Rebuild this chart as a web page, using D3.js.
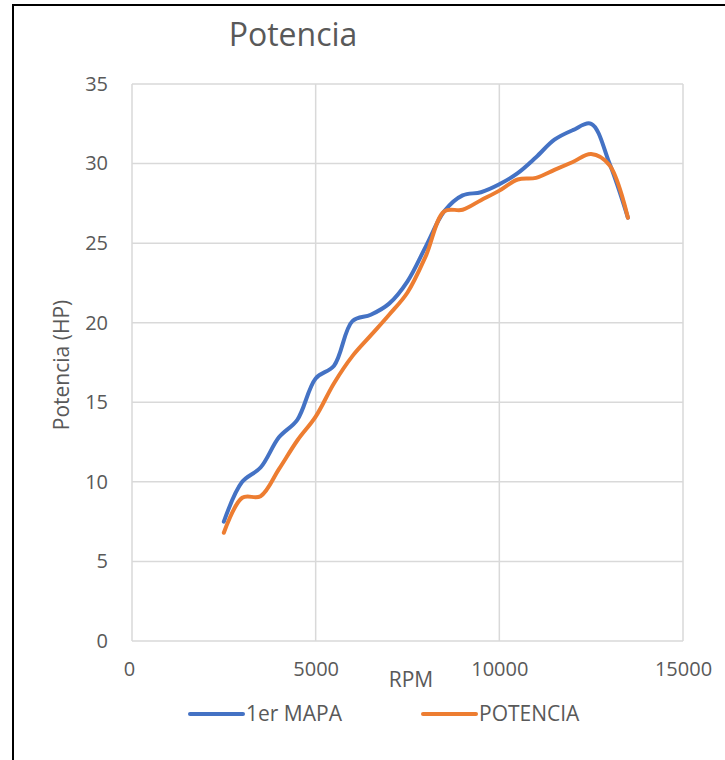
<!DOCTYPE html>
<html>
<head>
<meta charset="utf-8">
<script src="https://cdn.jsdelivr.net/npm/d3@7"></script>
<style>
  html, body { margin: 0; padding: 0; background: #fff; }
  svg { display: block; }
  text { font-family: "Open Sans", "Liberation Sans", sans-serif; fill: #595959; }
</style>
</head>
<body>
<script>
const rpm      = [2500, 3000, 3500, 4000, 4500, 5000, 5500, 6000, 6500, 7000, 7500, 8000, 8500, 9000, 9500, 10000, 10500, 11000, 11500, 12000, 12500, 13000, 13500];
const mapa1    = [7.5, 10.0, 10.9, 12.8, 13.9, 16.5, 17.3, 20.1, 20.5, 21.2, 22.6, 24.8, 27.0, 28.0, 28.2, 28.7, 29.4, 30.4, 31.5, 32.1, 32.5, 30.0, 26.6];
const potencia = [6.8, 9.0, 9.1, 10.8, 12.6, 14.1, 16.2, 17.9, 19.2, 20.5, 21.9, 24.2, 27.0, 27.1, 27.7, 28.3, 29.0, 29.1, 29.6, 30.1, 30.6, 29.9, 26.6];
const seriesNames = ["1er MAPA", "POTENCIA"];
const seriesColors = ["#4472C4", "#ED7D31"];
const xTicks = [0, 5000, 10000, 15000];
const yTicks = [0, 5, 10, 15, 20, 25, 30, 35];

const W = 725, H = 760;
const svg = d3.select("body").append("svg").attr("width", W).attr("height", H);

// outer frame
svg.append("path")
  .attr("d", `M13,${H + 5} L13,5 L${W + 5},5`)
  .attr("fill", "none").attr("stroke", "#000").attr("stroke-width", 2);

const x = d3.scaleLinear().domain([0, 15000]).range([132, 683]);
const y = d3.scaleLinear().domain([0, 35]).range([641, 84]);

// gridlines
const grid = svg.append("g");
grid.selectAll("line.h").data(yTicks).join("line")
  .attr("x1", x(0)).attr("x2", x(15000))
  .attr("y1", d => y(d)).attr("y2", d => y(d))
  .attr("stroke", "#d9d9d9").attr("stroke-width", 1.5);
grid.selectAll("line.v").data(xTicks).join("line")
  .attr("y1", y(0)).attr("y2", y(35))
  .attr("x1", d => x(d)).attr("x2", d => x(d))
  .attr("stroke", "#d9d9d9").attr("stroke-width", 1.5);

// axes labels via d3 axes
const yAxis = svg.append("g").attr("transform", `translate(${x(0)},0)`)
  .call(d3.axisLeft(y).tickValues(yTicks).tickSize(0).tickPadding(24));
const xAxis = svg.append("g").attr("transform", `translate(0,${y(0)})`)
  .call(d3.axisBottom(x).tickValues(xTicks).tickFormat(d3.format("d")).tickSize(0).tickPadding(21));
[yAxis, xAxis].forEach(a => {
  a.select(".domain").remove();
  a.selectAll("text").style("font-size", "20px").attr("fill", "#595959")
    .style("font-family", '"Open Sans", "Liberation Sans", sans-serif');
});
xAxis.selectAll("text").filter(d => d === 0).attr("dx", -3);

// lines
const line = d3.line().x((d, i) => x(rpm[i])).y(d => y(d)).curve(d3.curveCatmullRom.alpha(0.5));
[mapa1, potencia].forEach((s, k) => {
  svg.append("path").datum(s)
    .attr("d", line)
    .attr("fill", "none")
    .attr("stroke", seriesColors[k])
    .attr("stroke-width", 4)
    .attr("stroke-linecap", "round")
    .attr("stroke-linejoin", "round");
});

// title
svg.append("text").attr("x", 293).attr("y", 46).attr("text-anchor", "middle")
  .style("font-size", "32px").text("Potencia");

// axis titles
svg.append("text").attr("transform", `translate(69,365) rotate(-90)`).attr("text-anchor", "middle")
  .style("font-size", "21px").text("Potencia (HP)");
svg.append("text").attr("x", 411).attr("y", 687).attr("text-anchor", "middle")
  .style("font-size", "21px").text("RPM");

// legend
const legX = [190, 423];
seriesNames.forEach((n, k) => {
  svg.append("line").attr("x1", legX[k]).attr("x2", legX[k] + 53)
    .attr("y1", 714).attr("y2", 714)
    .attr("stroke", seriesColors[k]).attr("stroke-width", 4).attr("stroke-linecap", "round");
  svg.append("text").attr("x", legX[k] + 56).attr("y", 721)
    .style("font-size", "21px").text(n);
});
</script>
</body>
</html>
